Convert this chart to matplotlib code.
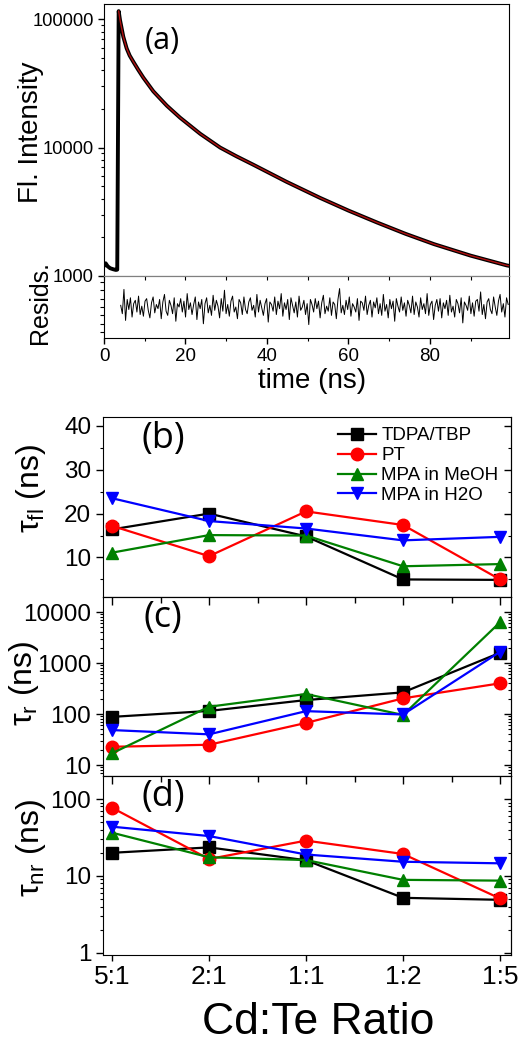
import matplotlib
matplotlib.use('Agg')
import matplotlib.pyplot as plt   # plotting
import numpy as np
from matplotlib.ticker import MultipleLocator, LogLocator, NullFormatter, FixedLocator

plt.rcParams['font.family'] = ['Liberation Sans', 'DejaVu Sans']
plt.rcParams['mathtext.fontset'] = 'custom'
plt.rcParams['mathtext.rm'] = 'Liberation Sans'
plt.rcParams['mathtext.it'] = 'Liberation Sans:italic'

# ---- panel (a): decay trace
decay_t = [0.0, 0.4, 0.9, 1.5, 2.2, 2.9, 3.25, 3.6, 3.93, 4.74, 5.56, 6.3, 7.2, 8.4, 9.65, 12.1,
           15.4, 18.65, 23.6, 28.5, 32.5, 36.6, 44.8, 53.0, 60.0, 67.0, 74.0, 81.0, 90.0, 98.8, 99.4]
decay_i = [1200, 1256, 1190, 1150, 1130, 1115, 1120, 115300, 98200, 72800, 59100, 52000, 46500,
           40300, 35000, 27400, 21200, 17100, 12800, 10000, 8550, 7360, 5410, 4060, 3230, 2610,
           2130, 1770, 1440, 1210, 1200]
peak = 7   # fit starts at the peak

# residuals (estimated)
resid = [0.2, -0.8, 2.1, -1.6, 0.9, -0.3, 1.1, -1.2, 0.4, 0.8, -0.6, 1.3, -0.9, 0.1, -1.1, 0.7, 1.0, -0.4, -1.3, 0.5,
         1.2, -0.7, 0.3, -0.2, 0.9, -1.4, 0.6, 1.5, -0.5, -1.0, 0.8, 0.2, -0.8, 1.1, -1.7, 0.4, 0.0, 1.0, -0.6, 0.7,
         -1.2, 1.6, -0.3, 0.5, -0.9, 0.3, 1.2, -1.5, 0.6, -0.2, 0.9, -2.0, 0.4, 1.1, -0.7, 0.2, -1.0, 1.4, -0.4, 0.8,
         0.1, -1.3, 1.0, -0.5, 2.0, -0.8, 0.3, -1.1, 0.7, 1.3, -0.6, 0.0, -1.4, 0.9, 0.5, -0.9, 1.2, -0.3, -0.8, 0.6,
         1.1, -0.4, 0.2, -1.2, 1.5, -0.6, 0.8, -0.1, -1.0, 0.4, 1.0, -1.8, 0.6, 0.3, -0.5, 1.2, -0.9, 0.7, -0.2, 1.6,
         -1.1, 0.5, -0.3, 0.9, -1.5, 1.1, 0.2, -0.7, 0.6, -1.2, 1.3, -0.4, 0.0, 0.8, -0.9, 0.4, -2.1, 0.9, 0.3, -0.6,
         1.0, -0.2, 0.7, -1.3, 0.5, 1.4, -0.8, 0.1, -0.5, 1.1, -1.0, 0.6, 0.3, -1.4, 0.9, 2.2, -0.7, 0.2, -0.9, 0.8,
         -0.3, 1.2, -1.1, 0.4, 0.0, -0.6, 1.0, -1.6, 0.7, 0.5, -0.4, 1.3, -0.9, 0.2, 0.8, -1.2, 0.6, -0.1, 1.1, -0.8,
         0.4, -1.0, 1.5, -0.5, 0.3, -1.3, 0.9, -0.2, 0.7, -1.7, 1.0, 0.1, -0.6, 1.2, -0.4, 0.5, -1.1, 0.8, 0.2, -0.7,
         1.3, -0.9, 0.6, 0.0, -1.2, 1.1, -0.3, 0.4, -0.8, 1.6, -1.0, 0.3, 0.7, -1.5, 0.2, 0.9, -0.5, 1.0, -1.3, 0.5,
         -0.2, 0.8, -1.0, 1.4, -0.6, 0.1, -1.2, 0.9, 0.4, -0.7, 1.1, -1.9, 0.6, 0.2, -0.4, 1.3, -0.8, 0.5, -1.1, 0.7,
         0.9, -0.5, 1.8, -0.9, 0.3, -1.4, 0.6, 1.0, -0.3, -0.8, 1.2, 0.0, -1.0, 0.7, 1.5, -0.6, 0.4, -1.2, 1.1, 0.3]
resid_t = np.linspace(4.1, 99.2, len(resid))   # channel times

# ---- panels (b)-(d)
ratios = ['5:1', '2:1', '1:1', '1:2', '1:5']
names = ['TDPA/TBP', 'PT', 'MPA in MeOH', 'MPA in H2O']

tau_fl_tdpa = [16.4, 20.0, 14.8, 5.0, 4.9]
tau_fl_pt = [17.2, 10.3, 20.5, 17.4, 5.0]
tau_fl_meoh = [11.1, 15.1, 15.0, 8.0, 8.5]
tau_fl_h2o = [23.5, 18.3, 16.6, 13.9, 14.7]

tau_r_tdpa = [88, 115, 188, 266, 1590]
tau_r_pt = [22.8, 25, 67, 203, 400]
tau_r_meoh = [17, 139, 247, 96, 6300]
tau_r_h2o = [48.5, 40, 114, 98, 1660]

tau_nr_tdpa = [20, 23.5, 16, 5.2, 4.9]
tau_nr_pt = [77, 16.6, 28.8, 19.3, 5.1]
tau_nr_meoh = [36.5, 17.5, 16.1, 8.9, 8.7]
tau_nr_h2o = [43.7, 33, 19, 15.3, 14.6]

colors = ['black', 'red', 'green', 'blue']
markers = ['s', 'o', '^', 'v']

W, H = 526, 1048
def box(l, t, r, b):   # pixel box -> figure fraction
    return [l/W, 1-b/H, (r-l)/W, (b-t)/H]

fig = plt.figure(figsize=(W/100, H/100), dpi=100)
ax_a = fig.add_axes(box(104, 4, 509, 276))
ax_res = fig.add_axes(box(104, 276, 509, 338))
ax_b = fig.add_axes(box(103, 417, 511, 597))
ax_c = fig.add_axes(box(103, 597, 511, 776))
ax_d = fig.add_axes(box(103, 776, 511, 955))

gray = '#808080'

# (a) decay
ax_a.semilogy(decay_t, decay_i, color='black', lw=2.8)
ax_a.semilogy(decay_t[peak:], decay_i[peak:], color='#b01010', lw=1.0)
ax_a.set_xlim(0, 99.4)
ax_a.set_ylim(1000, 1.31e5)
ax_a.yaxis.set_major_locator(FixedLocator([1000, 10000, 100000]))
ax_a.set_yticklabels(['1000', '10000', '100000'], fontsize=13.2)
ax_a.yaxis.set_minor_locator(LogLocator(subs=range(2, 10)))
ax_a.yaxis.set_minor_formatter(NullFormatter())
ax_a.tick_params(axis='y', which='major', direction='out', length=4, width=1)
ax_a.tick_params(axis='y', which='minor', direction='out', length=2, width=0.8)
ax_a.tick_params(axis='x', which='both', bottom=False, labelbottom=False)
ax_a.spines['bottom'].set_color(gray)
ax_a.text(0.143, 0.864, '(a)', transform=ax_a.transAxes, ha='center', va='center',
          fontsize=22, family='Open Sans')

# residuals
ax_res.plot(resid_t, resid, color='black', lw=0.7)
ax_res.set_xlim(0, 99.4)
ax_res.set_ylim(-3.7, 3.7)
ax_res.set_yticks(range(-3, 4))
ax_res.set_yticklabels([])
ax_res.tick_params(axis='y', direction='out', length=3, width=0.8)
ax_res.set_xticks([0, 20, 40, 60, 80])
ax_res.set_xticklabels(['0', '20', '40', '60', '80'], fontsize=13.5)
ax_res.xaxis.set_minor_locator(MultipleLocator(10))
ax_res.tick_params(axis='x', which='major', direction='out', length=4, width=1)
ax_res.tick_params(axis='x', which='minor', direction='out', length=2.5, width=0.8)
ax_res.spines['top'].set_color(gray)
top = ax_res.secondary_xaxis('top')
top.xaxis.set_major_locator(MultipleLocator(10))
top.tick_params(direction='in', length=3, width=0.8, labeltop=False)
top.spines['top'].set_color(gray)

# (b)-(d): scales first, then styling
ax_b.set_ylim(1, 42)
ax_b.yaxis.set_major_locator(FixedLocator([10, 20, 30, 40]))
ax_b.set_yticklabels(['10', '20', '30', '40'], fontsize=17.5)
ax_b.yaxis.set_minor_locator(MultipleLocator(5))
for ax, lo, hi, tks in [(ax_c, 6.1, 19700, [10, 100, 1000, 10000]), (ax_d, 0.94, 199, [1, 10, 100])]:
    ax.set_yscale('log')
    ax.set_ylim(lo, hi)
    ax.yaxis.set_major_locator(FixedLocator(tks))
    ax.set_yticklabels([str(t) for t in tks], fontsize=17.5)
    ax.yaxis.set_minor_locator(LogLocator(subs=range(2, 10)))
    ax.yaxis.set_minor_formatter(NullFormatter())

x = np.arange(len(ratios))
panels = [(ax_b, [tau_fl_tdpa, tau_fl_pt, tau_fl_meoh, tau_fl_h2o], '(b)'),
          (ax_c, [tau_r_tdpa, tau_r_pt, tau_r_meoh, tau_r_h2o], '(c)'),
          (ax_d, [tau_nr_tdpa, tau_nr_pt, tau_nr_meoh, tau_nr_h2o], '(d)')]
for ax, vals, lab in panels:
    for v, c, m, n in zip(vals, colors, markers, names):
        ax.plot(x, v, color=c, marker=m, ms=9 if m != 's' else 8, lw=1.6, label=n)
    ax.set_xlim(-0.093, 4.113)
    ax.set_xticks(x)
    ax.tick_params(axis='x', which='both', bottom=False, labelbottom=False)
    ax.tick_params(axis='y', which='major', direction='out', length=5, width=1)
    ax.tick_params(axis='y', which='minor', direction='out', length=2.5, width=0.8)
    ax.text(0.147, 0.88, lab, transform=ax.transAxes, ha='center', va='center',
            fontsize=26, family='Open Sans')
    right = ax.secondary_yaxis('right')
    if ax is ax_b:
        right.yaxis.set_major_locator(MultipleLocator(10))
        right.yaxis.set_minor_locator(MultipleLocator(5))
    else:
        right.yaxis.set_major_locator(LogLocator())
        right.yaxis.set_minor_locator(LogLocator(subs=range(2, 10)))
    right.yaxis.set_major_formatter(NullFormatter())
    right.yaxis.set_minor_formatter(NullFormatter())
    right.tick_params(axis='y', which='major', direction='in', length=5, width=1)
    right.tick_params(axis='y', which='minor', direction='in', length=2.5, width=0.8)
    if ax is not ax_b:
        tp = ax.secondary_xaxis('top')
        tp.set_xticks(x)
        tp.xaxis.set_minor_locator(FixedLocator(x[:-1]+0.5))
        tp.xaxis.set_major_formatter(NullFormatter())
        tp.tick_params(which='major', direction='in', length=6, width=1)
        tp.tick_params(which='minor', direction='in', length=4, width=1)

ax_b.legend(loc='upper left', bbox_to_anchor=(0.576, 0.944), frameon=False, fontsize=13.5,
            handlelength=2.0, handletextpad=0.3, labelspacing=0.15, borderpad=0, borderaxespad=0)

ax_d.tick_params(axis='x', which='major', bottom=True, labelbottom=True, direction='out',
                 length=4, width=1)
ax_d.set_xticklabels(ratios, fontsize=19)

# axis titles
fig.text(31/W, 1-132/H, 'Fl. Intensity', rotation=90, ha='center', va='center', fontsize=20)
fig.text(40/W, 1-302/H, 'Resids.', rotation=90, ha='center', va='center', fontsize=18)
fig.text(312/W, 1-381/H, 'time (ns)', ha='center', va='center', fontsize=20)
fig.text(31/W, 1-488/H, r'$\mathrm{τ_{fl}}$ (ns)', rotation=90, ha='center', va='center', fontsize=23)
fig.text(24/W, 1-683/H, r'$\mathrm{τ_{r}}$ (ns)', rotation=90, ha='center', va='center', fontsize=23)
fig.text(31/W, 1-848/H, r'$\mathrm{τ_{nr}}$ (ns)', rotation=90, ha='center', va='center', fontsize=23)
fig.text(318/W, 1-1022/H, 'Cd:Te Ratio', ha='center', va='center', fontsize=32)

fig.savefig('out.png', dpi=100)
